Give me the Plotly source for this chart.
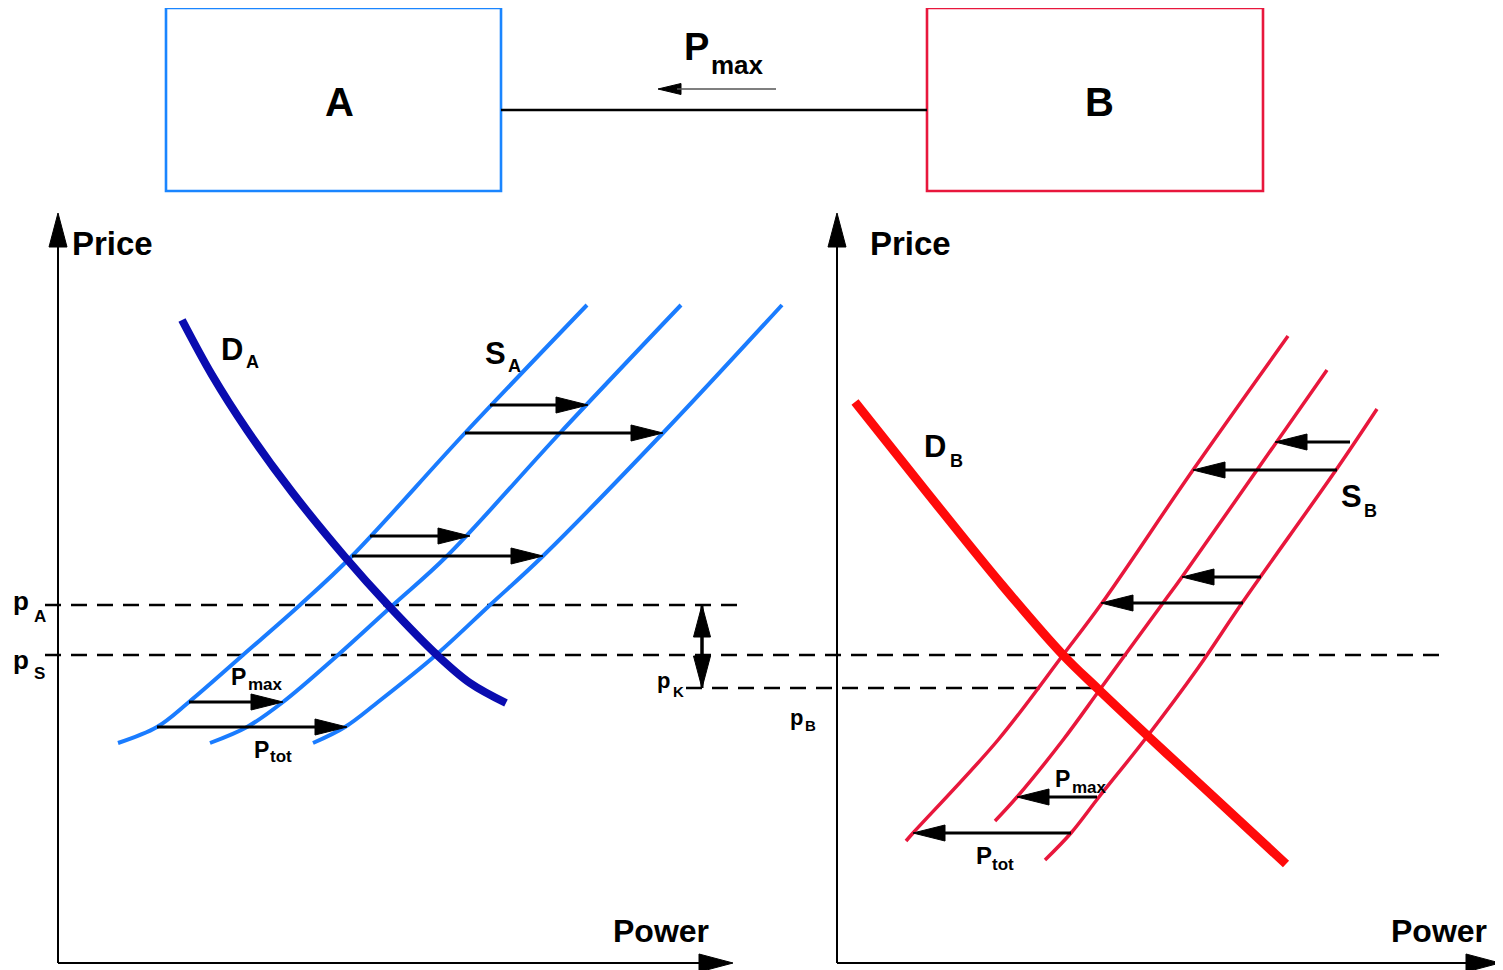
import plotly.graph_objects as go

# Diagram drawn in pixel space of the original figure (y grows downward)
W, H = 1503, 970
PAGE_MARGIN = 8  # default body margin of the html page

BLUE = "#1a7cff"
DARK_BLUE = "#0a0cb0"
RED = "#e8173c"
BRIGHT_RED = "#ff0a0a"
FONT = "Liberation Sans, Arial, sans-serif"

# --- market A: supply S_A (original + two shifted copies) and demand D_A ---
SA_Y = [743, 727, 702, 655, 605, 556, 433, 305]
SA1_X = [118, 157, 189, 243, 300, 352, 465, 587]
SA2_X = [210, 247, 283, 338, 393, 447, 560, 681]
SA3_X = [313, 345, 378, 436, 490, 543, 663, 782]
DA_X = [182, 212, 247, 292, 345, 388, 437, 470, 506]
DA_Y = [320, 375, 430, 492, 557, 605, 655, 683, 703]

# --- market B: supply S_B (three copies) and demand D_B ---
SB1_X = [906, 913, 998, 1063, 1102, 1193, 1288]
SB1_Y = [841, 833, 740, 655, 603, 470, 336]
SB2_X = [995, 1017, 1063, 1101, 1163, 1182, 1257, 1327]
SB2_Y = [821, 797, 740, 688, 603, 577, 470, 370]
SB3_X = [1045, 1071, 1099, 1146, 1198, 1242, 1336, 1377]
SB3_Y = [860, 833, 797, 738, 668, 603, 470, 409]
DB_X = [855, 925, 1002, 1063, 1098, 1150, 1203, 1286]
DB_Y = [402, 490, 585, 655, 689, 738, 787, 864]

# shift arrows (x0, y0, x1, y1)
ARROWS_A = [(490, 405, 588, 405), (465, 433, 663, 433),
            (370, 536, 470, 536), (352, 556, 543, 556),
            (189, 702, 283, 702), (157, 727, 347, 727)]
ARROWS_B = [(1350, 442, 1275, 442), (1337, 470, 1193, 470),
            (1261, 577, 1182, 577), (1243, 603, 1101, 603),
            (1097, 797, 1017, 797), (1071, 833, 913, 833)]

# price levels: (y, x_start, x_end)
PRICE_LINES = [(605, 45, 737), (655, 45, 1447), (688, 686, 1101)]

BOX_A = (166, 8, 501, 191)
BOX_B = (927, 8, 1263, 191)
LINK = (501, 110, 927, 110)
FLOW_ARROW = (776, 89, 658, 89)
PK_ARROW = (702, 605, 702, 688)

# axes: (x origin, y origin, y top, x right)
AXES = [(58, 963, 213, 733), (837, 963, 213, 1500)]

# labels: text, x, y, font size
LABELS = [
    ("A", 339, 102, 40), ("B", 1099, 102, 40),
    ("P", 696, 47, 38), ("max", 737, 65, 26),
    ("Price", 112, 243, 33), ("Price", 910, 243, 33),
    ("Power", 661, 931, 32), ("Power", 1439, 931, 32),
    ("D", 232, 349, 31), ("A", 252, 362, 18),
    ("S", 495, 353, 31), ("A", 514, 366, 18),
    ("D", 935, 446, 31), ("B", 956, 461, 18),
    ("S", 1351, 496, 31), ("B", 1370, 511, 18),
    ("p", 21, 601, 26), ("A", 40, 616, 17),
    ("p", 21, 660, 26), ("S", 39, 673, 17),
    ("p", 663, 680, 22), ("K", 678, 691, 15),
    ("p", 796, 717, 22), ("B", 810, 725, 15),
    ("P", 238, 677, 23), ("max", 265, 684, 17),
    ("P", 261, 750, 23), ("tot", 281, 756, 17),
    ("P", 1062, 779, 23), ("max", 1089, 787, 17),
    ("P", 984, 855, 24), ("tot", 1003, 864, 17),
]

fig = go.Figure()


def line(xs, ys, color, width, dash=None, smooth=False):
    fig.add_trace(go.Scatter(
        x=xs, y=ys, mode="lines", hoverinfo="skip",
        line=dict(color=color, width=width, dash=dash,
                  shape="spline" if smooth else "linear",
                  smoothing=1.0 if smooth else None)))


def head(x0, y0, x1, y1, length, half, color="black"):
    dx, dy = x1 - x0, y1 - y0
    n = (dx * dx + dy * dy) ** 0.5
    ux, uy = dx / n, dy / n
    bx, by = x1 - ux * length, y1 - uy * length
    px, py = -uy * half, ux * half
    fig.add_trace(go.Scatter(
        x=[x1, bx + px, bx - px, x1], y=[y1, by + py, by - py, y1],
        mode="lines", fill="toself", fillcolor=color, hoverinfo="skip",
        line=dict(color=color, width=1)))
    return bx + ux * 4, by + uy * 4


def arrow(x0, y0, x1, y1, width=3, length=32, half=8, shaft="black"):
    bx, by = head(x0, y0, x1, y1, length, half)
    line([x0, bx], [y0, by], shaft, width)


# boxes and link
for (x0, y0, x1, y1), c in [(BOX_A, "#1a85ff"), (BOX_B, RED)]:
    line([x0, x1, x1, x0, x0], [y0, y0, y1, y1, y0], c, 2.6)
line([LINK[0], LINK[2]], [LINK[1], LINK[3]], "black", 2.4)
arrow(*FLOW_ARROW, width=1.4, length=23, half=5.5, shaft="#555555")

# axes
for x0, y0, ytop, xr in AXES:
    arrow(x0, y0, x0, ytop, width=2, length=34, half=9)
    arrow(x0, y0, xr, y0, width=2, length=34, half=9)

# price levels
for y, xa, xb in PRICE_LINES:
    line([xa, xb], [y, y], "black", 2.6, dash="16px,10px")
arrow(*PK_ARROW, width=3, length=32, half=8.5)
arrow(PK_ARROW[2], PK_ARROW[3], PK_ARROW[0], PK_ARROW[1], width=3, length=32, half=8.5)

# curves
for xs in (SA1_X, SA2_X, SA3_X):
    line(xs, SA_Y, BLUE, 4, smooth=True)
line(DA_X, DA_Y, DARK_BLUE, 8, smooth=True)
for xs, ys in ((SB1_X, SB1_Y), (SB2_X, SB2_Y), (SB3_X, SB3_Y)):
    line(xs, ys, RED, 3.5, smooth=True)
line(DB_X, DB_Y, BRIGHT_RED, 9, smooth=True)

for a in ARROWS_A + ARROWS_B:
    arrow(*a)

for text, x, y, size in LABELS:
    fig.add_annotation(
        x=x, y=y, text=f"<b>{text}</b>", showarrow=False,
        xanchor="center", yanchor="middle",
        font=dict(family=FONT, size=size, color="black"))

# the page adds an 8px body margin, so the plot area starts at (8, 8)
fig.update_layout(
    width=W - PAGE_MARGIN, height=H - PAGE_MARGIN,
    margin=dict(l=0, r=0, t=0, b=0),
    paper_bgcolor="white", plot_bgcolor="white",
    showlegend=False,
    xaxis=dict(range=[PAGE_MARGIN, W], visible=False, fixedrange=True),
    yaxis=dict(range=[H, PAGE_MARGIN], visible=False, fixedrange=True),
)

fig.write_html("out.html")
